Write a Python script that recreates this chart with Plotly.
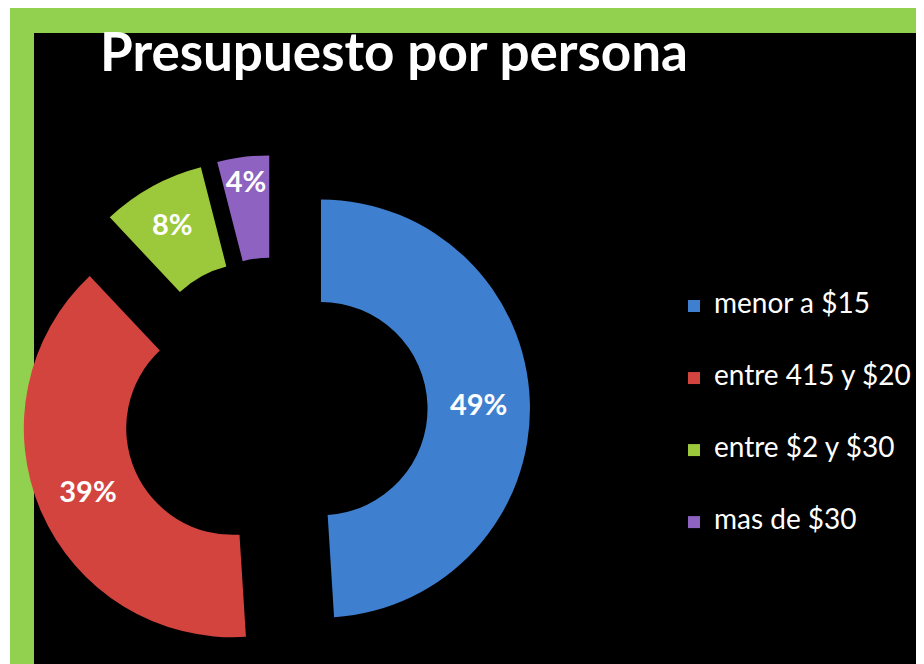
import plotly.graph_objects as go

# data
categories = ["menor a $15", "entre 415 y $20", "entre $2 y $30", "mas de $30"]
shares = [49, 39, 8, 4]
colors = ["#3F7FCF", "#D4443F", "#9CC83B", "#8E62C1"]

W, H = 924, 664
OFF = 8  # the page body margin shifts the figure by 8px


def px(x):
    return (x - OFF) / W


def py(y):
    return 1 - (y - OFF) / H


# legend text padded with blank lines so the items are spaced out like the original
legend_labels = [f"<br><span style='font-size:28px'>{c}</span><br>" for c in categories]

# pie centre (275, 410), radius ~209, pull 0.22
cx, cy, r = 275, 410, 209
half = r * 1.22

fig = go.Figure(go.Pie(
    labels=legend_labels,
    values=shares,
    sort=False,
    direction="clockwise",
    rotation=0,
    hole=0.51,
    pull=[0.22] * len(shares),
    marker=dict(colors=colors, line=dict(width=0)),
    texttemplate="%{percent:.0%}",
    textposition="inside",
    insidetextorientation="horizontal",
    textfont=dict(family="Lato", size=29, color="white", weight="bold"),
    domain=dict(x=[px(cx - half), px(cx + half)], y=[py(cy + half), py(cy - half)]),
    hoverinfo="skip",
))

# green frame and black panel
fig.add_shape(type="rect", xref="paper", yref="paper", x0=px(10), x1=1, y0=0, y1=py(8),
              fillcolor="#92D050", line_width=0, layer="below")
fig.add_shape(type="rect", xref="paper", yref="paper", x0=px(34), x1=px(917), y0=0, y1=py(33),
              fillcolor="black", line_width=0, layer="below")

fig.update_layout(
    width=W, height=H,
    margin=dict(l=0, r=0, t=0, b=0),
    paper_bgcolor="white",
    plot_bgcolor="black",
    title=dict(text="<b>Presupuesto por persona</b>", x=px(100), xanchor="left",
               y=py(34), yanchor="top", yref="container",
               font=dict(family="Lato", size=53, color="white")),
    legend=dict(x=px(674), xanchor="left", y=py(265), yanchor="top",
                font=dict(family="Lato", size=17.7, color="white"),
                bgcolor="rgba(0,0,0,0)"),
    uniformtext=dict(minsize=29, mode="show"),
)

fig.write_html("out.html")
